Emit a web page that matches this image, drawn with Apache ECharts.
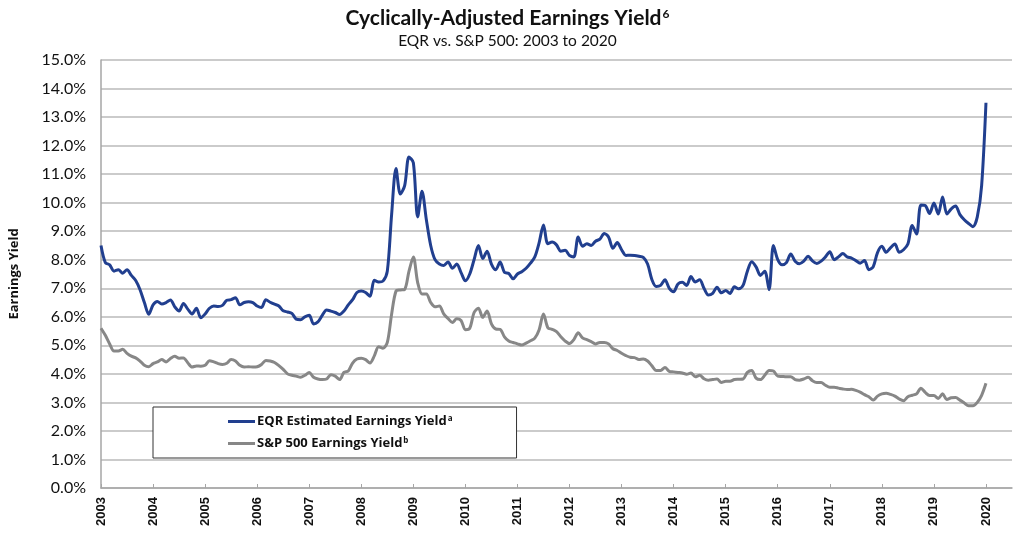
<!DOCTYPE html>
<html>
<head>
<meta charset="utf-8">
<script src="https://cdn.jsdelivr.net/npm/echarts@6/dist/echarts.min.js"></script>
<style>
  html, body { margin: 0; padding: 0; background: #fff; }
  #chart { width: 1015px; height: 533px; }
</style>
</head>
<body>
<div id="chart"></div>
<script>
(function() {
  // monthly readings, Jan 2003 .. Jan 2020 (%)
  var eqrYield = [
    8.5, 7.9, 7.82, 7.6, 7.65, 7.53, 7.65, 7.45, 7.27, 6.95, 6.5, 6.09,
    6.42, 6.54, 6.45, 6.5, 6.59, 6.35, 6.2, 6.47, 6.27, 6.1, 6.3, 5.97,
    6.1, 6.3, 6.38, 6.36, 6.4, 6.58, 6.6, 6.67, 6.42, 6.5, 6.53, 6.5,
    6.38, 6.33, 6.6, 6.51, 6.44, 6.38, 6.21, 6.17, 6.12, 5.92, 5.9, 6.0,
    6.05, 5.75, 5.82, 6.05, 6.24, 6.2, 6.15, 6.08, 6.2, 6.42, 6.6, 6.85,
    6.9, 6.85, 6.72, 7.28, 7.22, 7.25, 7.6, 9.6, 11.2, 10.3, 10.6, 11.6,
    11.4, 9.5, 10.4, 9.4, 8.5, 8.0, 7.85, 7.8, 7.92, 7.7, 7.85, 7.55,
    7.26, 7.5, 8.0, 8.5, 8.04, 8.3, 7.85, 7.65, 7.92, 7.56, 7.52, 7.33,
    7.5, 7.58, 7.7, 7.88, 8.1, 8.6, 9.22, 8.56, 8.62, 8.52, 8.3, 8.33,
    8.15, 8.1, 8.8, 8.47, 8.56, 8.5, 8.65, 8.72, 8.92, 8.8, 8.4, 8.6,
    8.35, 8.15, 8.16, 8.15, 8.12, 8.08, 7.85, 7.3, 7.06, 7.1, 7.3, 7.0,
    6.88, 7.15, 7.21, 7.1, 7.41, 7.22, 7.3, 7.0, 6.76, 6.82, 7.04, 6.84,
    6.92, 6.82, 7.05, 6.98, 7.1, 7.6, 7.93, 7.75, 7.45, 7.6, 6.95, 8.5,
    8.0, 7.82, 7.9, 8.2, 7.95, 7.86, 7.95, 8.12, 7.96, 7.87, 7.95, 8.1,
    8.28, 8.0, 8.1, 8.22, 8.1, 8.06, 7.97, 7.88, 7.97, 7.65, 7.75, 8.25,
    8.47, 8.26, 8.42, 8.55, 8.26, 8.35, 8.55, 9.2, 8.9, 9.92, 9.9, 9.62,
    9.99, 9.6, 10.2, 9.6, 9.78, 9.88, 9.58, 9.4, 9.27, 9.16, 9.5, 10.6, 13.5
  ];
  var spxYield = [
    5.6, 5.35, 5.05, 4.8, 4.8, 4.86, 4.72, 4.62, 4.56, 4.45, 4.3, 4.25,
    4.36, 4.42, 4.5, 4.42, 4.54, 4.62, 4.55, 4.56, 4.39, 4.24, 4.28, 4.27,
    4.3, 4.46, 4.42, 4.36, 4.33, 4.37, 4.5, 4.45, 4.3, 4.24, 4.25, 4.24,
    4.25, 4.33, 4.47, 4.45, 4.4, 4.29, 4.16, 4.0, 3.95, 3.92, 3.88, 3.95,
    4.05, 3.88, 3.82, 3.8, 3.82, 3.97, 3.92, 3.8, 4.05, 4.1, 4.38, 4.52,
    4.55, 4.5, 4.38, 4.63, 4.95, 4.9, 5.1, 6.1, 6.9, 6.94, 6.96, 7.6,
    8.1, 7.2, 6.8, 6.8, 6.5, 6.35, 6.38, 6.1, 5.94, 5.8, 5.93, 5.87,
    5.55, 5.6, 6.15, 6.3, 5.98, 6.2, 5.75, 5.57, 5.56, 5.3, 5.15, 5.1,
    5.05, 5.01, 5.08, 5.16, 5.25, 5.55, 6.1, 5.62, 5.56, 5.48, 5.3, 5.15,
    5.06, 5.2, 5.44, 5.26, 5.2, 5.13, 5.05, 5.1, 5.1, 5.05, 4.88, 4.82,
    4.72, 4.64, 4.58, 4.57, 4.5, 4.52, 4.45, 4.28, 4.12, 4.12, 4.22, 4.09,
    4.07, 4.05, 4.03, 3.99, 4.03, 3.9, 3.95, 3.83, 3.78, 3.8, 3.82, 3.7,
    3.74, 3.74, 3.8, 3.81, 3.82, 4.05, 4.12, 3.85, 3.8, 3.95, 4.12, 4.1,
    3.92, 3.91, 3.9, 3.9, 3.8, 3.78, 3.82, 3.88, 3.76, 3.7, 3.7, 3.6,
    3.53, 3.53, 3.5, 3.47, 3.45, 3.46, 3.42, 3.36, 3.27, 3.2, 3.08, 3.22,
    3.3, 3.32, 3.28, 3.22, 3.12, 3.06, 3.2, 3.25, 3.3, 3.5, 3.35, 3.24,
    3.24, 3.14, 3.3, 3.1, 3.16, 3.17, 3.08, 2.98, 2.88, 2.88, 3.0, 3.25, 3.67
  ];
  var seriesNames = ['EQR Estimated Earnings Yield', 'S&P 500 Earnings Yield'];
  var seriesSup = ['a', 'b'];
  var seriesColors = ['#213f8f', '#878787'];

  // month categories Jan 2003 .. Jul 2020 (axis runs a bit past the last point)
  var months = [];
  for (var y = 2003; y <= 2020; y++) {
    for (var m = 1; m <= 12; m++) {
      if (y === 2020 && m > 7) break;
      months.push(y + '-' + (m < 10 ? '0' + m : m));
    }
  }

  var myChart = echarts.init(document.getElementById('chart'));
  var isJan = function(idx) { return idx % 12 === 0; };

  var option = {
    animation: false,
    title: {
      text: 'Cyclically-Adjusted Earnings Yield{s|6}',
      subtext: 'EQR vs. S&P 500: 2003 to 2020',
      left: 'center',
      top: 3,
      itemGap: 4,
      textStyle: {
        fontFamily: 'Lato',
        fontSize: 21,
        fontWeight: 'bold',
        color: '#111',
        rich: {
          s: { fontFamily: 'Lato', fontSize: 12, fontWeight: 'bold', color: '#111', verticalAlign: 'top', padding: [0, 0, 9, 1] }
        }
      },
      subtextStyle: { fontFamily: 'Lato', fontSize: 15.5, color: '#111' }
    },
    legend: {
      orient: 'vertical',
      left: 153,
      top: 407,
      padding: [8, 64, 8, 75],
      itemGap: 9,
      itemWidth: 27,
      itemHeight: 3,
      icon: 'rect',
      backgroundColor: '#fff',
      borderColor: '#333',
      borderWidth: 1,
      data: seriesNames,
      formatter: function(name) {
        return '{t|' + name + '}{s|' + seriesSup[seriesNames.indexOf(name)] + '}';
      },
      textStyle: {
        padding: [0, 0, 0, -3],
        rich: {
          t: { fontFamily: 'Open Sans', fontSize: 13, fontWeight: 'bold', color: '#111' },
          s: { fontFamily: 'Open Sans', fontSize: 8, fontWeight: 'bold', color: '#111', verticalAlign: 'top', padding: [0, 0, 5, 1] }
        }
      }
    },
    grid: { left: 100, right: 3, top: 60, bottom: 45 },
    xAxis: {
      type: 'category',
      boundaryGap: false,
      data: months,
      axisLine: { lineStyle: { color: '#a6a6a6', width: 1.5 } },
      axisTick: { inside: true, length: 4, interval: function(idx) { return isJan(idx); }, lineStyle: { color: '#a6a6a6' } },
      axisLabel: {
        interval: function(idx) { return isJan(idx); },
        formatter: function(v) { return v.slice(0, 4); },
        rotate: 90,
        margin: 9,
        fontFamily: 'Liberation Sans',
        fontSize: 13,
        fontWeight: 'bold',
        color: '#111'
      },
      splitLine: { show: false }
    },
    yAxis: {
      type: 'value',
      min: 0,
      max: 15,
      interval: 1,
      name: 'Earnings Yield',
      nameLocation: 'middle',
      nameRotate: 90,
      nameGap: 80,
      nameTextStyle: { fontFamily: 'Open Sans', fontSize: 13, fontWeight: 'bold', color: '#111' },
      axisLine: { show: true, lineStyle: { color: '#a6a6a6', width: 1.5 } },
      axisTick: { show: false },
      axisLabel: {
        formatter: function(v) { return v.toFixed(1) + '%'; },
        margin: 15,
        fontFamily: 'Lato',
        fontSize: 16,
        color: '#111'
      },
      splitLine: { lineStyle: { color: '#cbcbcb', width: 2 } }
    },
    series: [
      {
        name: seriesNames[0],
        type: 'line',
        data: eqrYield,
        smooth: 0.3,
        showSymbol: false,
        lineStyle: { color: seriesColors[0], width: 3 },
        itemStyle: { color: seriesColors[0] },
        z: 3
      },
      {
        name: seriesNames[1],
        type: 'line',
        data: spxYield,
        smooth: 0.3,
        showSymbol: false,
        lineStyle: { color: seriesColors[1], width: 3 },
        itemStyle: { color: seriesColors[1] },
        z: 2
      }
    ]
  };
  myChart.setOption(option);
  window.addEventListener('resize', function() {
    myChart.resize();
  });
})();
</script>
</body>
</html>
